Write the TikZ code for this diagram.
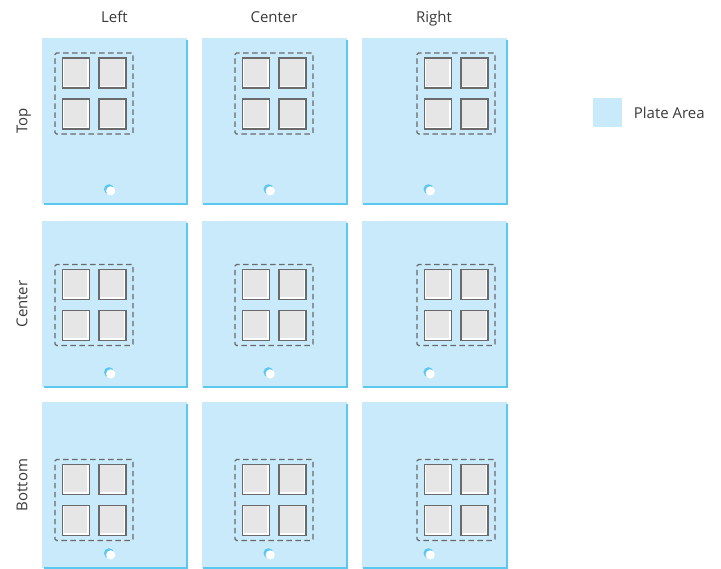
\documentclass[tikz,border=0pt]{standalone}
\usepackage{fontspec}
\setmainfont{Open Sans}
\usepackage{tikz}
\usetikzlibrary{positioning}

\definecolor{plateblue}{HTML}{C8EAFA}
\definecolor{plateedge}{HTML}{5CC8F0}
\definecolor{framegray}{HTML}{6A6A6A}
\definecolor{cellgray}{HTML}{E6E6E6}
\definecolor{labelgray}{HTML}{3A3A3A}

\tikzset{
    plate/.style={fill=plateblue, draw=none, inner sep=0pt,
      minimum width=145pt, minimum height=166pt},
    plateshadow/.style={plateedge, line width=1.6pt},
    cellgroup/.style={draw=framegray, line width=1.4pt,
      dash pattern=on 5.5pt off 3.5pt, rounded corners=1.5pt, inner sep=0pt,
      minimum width=78pt, minimum height=81pt},
    cell/.style={draw=framegray, fill=white, line width=1.6pt, inner sep=0pt,
      minimum width=27pt, minimum height=30pt},
    heading/.style={text=labelgray, font=\fontsize{15}{18}\selectfont, inner sep=0pt,
      text height=11pt, text depth=0pt},
}

\begin{document}
\begin{tikzpicture}[x=1pt, y=-1pt]
    \useasboundingbox (0,0) rectangle (721,569);
    \foreach \c/\xc/\dx in {1/114.5/-20.5, 2/274/0, 3/434/22}{
      \foreach \r/\yc/\dy in {1/121/-27.5, 2/304/1, 3/485/15}{
        \node[plate] (p-\c-\r) at (\xc,\yc) {};
        \draw[plateshadow] ([yshift=-2pt]p-\c-\r.north east) -- (p-\c-\r.south east) -- ([xshift=2pt]p-\c-\r.south west);
        % hole
        \coordinate (h-\c-\r) at ([shift={(-4.5pt,14pt)}]p-\c-\r.south);
        \fill[plateedge] ([shift={(-1pt,1pt)}]h-\c-\r) circle (5pt);
        \fill[white] ([shift={(0.7pt,-0.7pt)}]h-\c-\r) circle (4.6pt);
        % sensor group
        \node[cellgroup] (g-\c-\r) at (\xc+\dx,\yc+\dy) {};
        \foreach \i/\sx/\sy in {a/-18/-20.5, b/18.5/-20.5, c/-18/20.5, d/18.5/20.5}{
          \node[cell] (s-\c-\r-\i) at (\xc+\dx+\sx,\yc+\dy+\sy) {};
          \fill[cellgray] ([shift={(1.8pt,-1.8pt)}]s-\c-\r-\i.north west)
            rectangle ([shift={(-3pt,3pt)}]s-\c-\r-\i.south east);
        }
      }
    }
    % headings
    \node[heading, above=21pt of p-1-1.north, anchor=center] (hl) {Left};
    \node[heading, above=21pt of p-2-1.north, anchor=center] (hc) {Center};
    \node[heading, above=21pt of p-3-1.north, anchor=center] (hr) {Right};
    \node[heading, rotate=90, left=20pt of p-1-1.west, anchor=center] (vt) {Top};
    \node[heading, rotate=90, left=20pt of p-1-2.west, anchor=center] (vc) {Center};
    \node[heading, rotate=90, left=20pt of p-1-3.west, anchor=center] (vb) {Bottom};
    % legend
    \node[fill=plateblue, minimum width=29pt, minimum height=29pt, inner sep=0pt] (key) at (607,113) {};
    \node[heading, right=12pt of key] (keytext) {Plate Area};
\end{tikzpicture}
\end{document}
